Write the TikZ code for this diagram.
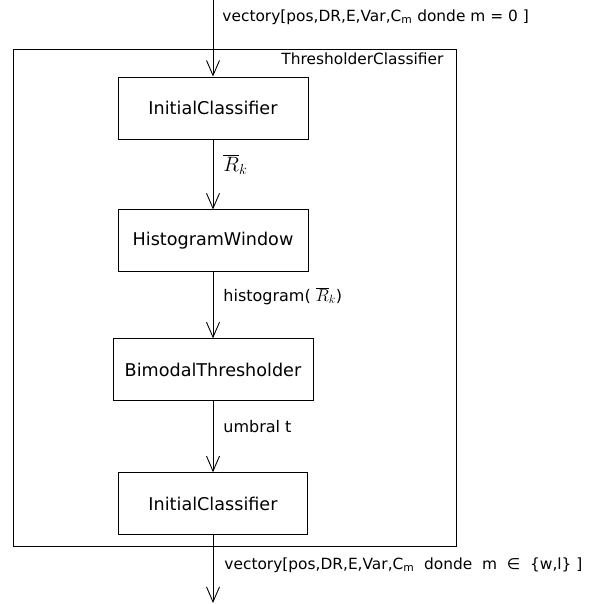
\documentclass[tikz,border=0pt]{standalone}
\usepackage{fontspec}
\setmainfont{DejaVu Sans}
\usetikzlibrary{positioning, arrows.meta}

\begin{document}
\begin{tikzpicture}[
    x=1pt, y=-1pt,
    line width=0.9pt,
    comp/.style={rectangle, draw, minimum height=62pt, inner sep=0pt, font=\fontsize{17.6}{20}\selectfont},
    lbl/.style={anchor=west, inner sep=0pt, font=\fontsize{15.4}{18}\selectfont},
    flow/.style={-{Straight Barb[length=15pt, width=13pt]}},
    edgelbl/.style={right, pos=0.36, xshift=8pt, inner sep=2pt, font=\fontsize{16}{18}\selectfont}
]
\useasboundingbox (0,0) rectangle (597,604);

\node [rectangle, draw, minimum width=443pt, minimum height=497pt, anchor=north west] (outer) at (13,49) {};
\node [anchor=north east, inner sep=0pt, yshift=-3pt, xshift=-13pt, font=\fontsize{15.4}{18}\selectfont] (title) at (outer.north east) {ThresholderClassifier};

\node [comp, minimum width=190pt] (init) at (213,108) {InitialClassifier};
\node [comp, minimum width=190pt, below=70pt of init] (histo) {HistogramWindow};
\node [comp, minimum width=200pt, below=66pt of histo] (bimodal) {BimodalThresholder};
\node [comp, minimum width=189pt, below=71pt of bimodal] (final) {InitialClassifier};

\coordinate (in) at (213,0);
\coordinate (out) at (213,603);

\draw [flow] (in) -- (init);
\draw [flow] (init) -- node[edgelbl] {\fontsize{20}{22}\selectfont$\overline{R}_k$} (histo);
\draw [flow] (histo) -- node[edgelbl] {histogram( {\fontsize{18}{20}\selectfont$\overline{R}_k$})} (bimodal);
\draw [flow] (bimodal) -- node[edgelbl] {umbral t} (final);
\draw [flow] (final) -- (out);

\node [lbl] (inlbl) at (222,17) {vectory[pos,DR,E,Var,C\textsubscript{m} donde m = 0 ]};
\node [lbl] (outlbl) at (224,565) {vectory[pos,DR,E,Var,C\textsubscript{m}\ \ donde\ \ m\ \ ∈\ \ \{w,l\} ]};

\end{tikzpicture}
\end{document}
